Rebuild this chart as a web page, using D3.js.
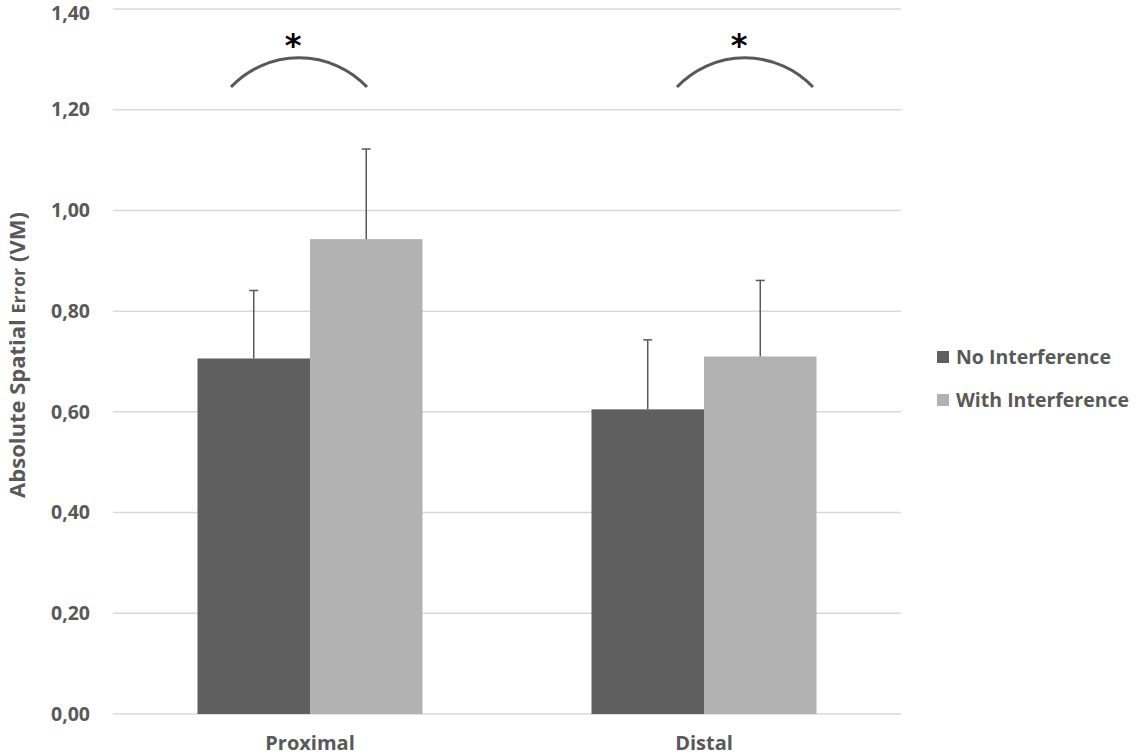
<!DOCTYPE html>
<html>
<head>
<meta charset="utf-8">
<script src="https://cdn.jsdelivr.net/npm/d3@7"></script>
<style>
  body { margin: 0; background: #fff; }
  svg { display: block; }
</style>
</head>
<body>
<div id="chart"></div>
<script>
// chart data
var categories = ["Proximal", "Distal"];
var series = ["No Interference", "With Interference"];
var means = [[0.706, 0.943], [0.605, 0.710]];
var errors = [[0.135, 0.179], [0.138, 0.151]];
var yTicks = [0, 0.2, 0.4, 0.6, 0.8, 1.0, 1.2, 1.4];
var colors = ["#5f5f5f", "#b2b2b2"];
// significance marks: arc ends and peak (data units), plus offset from group centre
var sigArcs = [
    { cat: "Proximal", dx: -11, halfWidth: 68, yEnd: 1.245, yPeak: 1.303, label: "*" },
    { cat: "Distal", dx: 41, halfWidth: 68, yEnd: 1.245, yPeak: 1.303, label: "*" }
];

function init() {
    var w = 1143, h = 756;
    var left = 113, right = 901, top = 9, bottom = 714;
    var fontMain = "'Open Sans', 'Noto Sans', sans-serif";

    var svg = d3.select("#chart").append("svg")
        .attr("width", w)
        .attr("height", h);

    var yScale = d3.scaleLinear()
        .domain([0, 1.4])
        .range([bottom, top]);

    var x0 = d3.scaleBand()
        .domain(categories)
        .range([left, right])
        .padding(0);

    var x1 = d3.scaleBand()
        .domain(series)
        .range([0, x0.bandwidth()])
        .paddingInner(0)
        .paddingOuter(0.751);

    // gridlines
    svg.append("g")
        .selectAll("line")
        .data(yTicks)
        .enter()
        .append("line")
        .attr("x1", left)
        .attr("x2", right)
        .attr("y1", function(d) { return yScale(d); })
        .attr("y2", function(d) { return yScale(d); })
        .attr("stroke", "#d9d9d9")
        .attr("stroke-width", 1.5);

    // y axis labels
    var yAxis = d3.axisLeft(yScale)
        .tickValues(yTicks)
        .tickSize(0)
        .tickPadding(23)
        .tickFormat(function(d) { return d3.format(".2f")(d).replace(".", ","); });

    var gy = svg.append("g")
        .attr("transform", "translate(" + left + ",0)")
        .call(yAxis);
    gy.select(".domain").remove();
    gy.selectAll("text")
        .attr("font-family", fontMain)
        .attr("font-weight", "bold")
        .attr("font-size", "19.5px")
        .attr("fill", "#595959");
    // keep the top label inside the frame
    gy.selectAll(".tick")
        .filter(function(d) { return d === 1.4; })
        .select("text")
        .attr("dy", "0.55em");

    // bars
    var groups = svg.append("g")
        .selectAll("g")
        .data(categories)
        .enter()
        .append("g")
        .attr("transform", function(d) { return "translate(" + x0(d) + ",0)"; });

    function rows(d, i) {
        return series.map(function(s, j) {
            return { s: s, j: j, v: means[i][j], e: errors[i][j] };
        });
    }

    groups.selectAll("rect")
        .data(rows)
        .enter()
        .append("rect")
        .attr("x", function(d) { return x1(d.s); })
        .attr("y", function(d) { return yScale(d.v); })
        .attr("width", x1.bandwidth())
        .attr("height", function(d) { return yScale(0) - yScale(d.v); })
        .attr("fill", function(d) { return colors[d.j]; });

    // error bars
    var eb = groups.selectAll(".err")
        .data(rows)
        .enter()
        .append("g")
        .attr("class", "err");

    eb.append("line")
        .attr("x1", function(d) { return x1(d.s) + x1.bandwidth() / 2; })
        .attr("x2", function(d) { return x1(d.s) + x1.bandwidth() / 2; })
        .attr("y1", function(d) { return yScale(d.v); })
        .attr("y2", function(d) { return yScale(d.v + d.e); })
        .attr("stroke", "#595959")
        .attr("stroke-width", 1.5);

    eb.append("line")
        .attr("x1", function(d) { return x1(d.s) + x1.bandwidth() / 2 - 4.5; })
        .attr("x2", function(d) { return x1(d.s) + x1.bandwidth() / 2 + 4.5; })
        .attr("y1", function(d) { return yScale(d.v + d.e); })
        .attr("y2", function(d) { return yScale(d.v + d.e); })
        .attr("stroke", "#595959")
        .attr("stroke-width", 1.5);

    // category labels
    svg.append("g")
        .selectAll("text")
        .data(categories)
        .enter()
        .append("text")
        .attr("x", function(d) { return x0(d) + x0.bandwidth() / 2; })
        .attr("y", 750)
        .attr("text-anchor", "middle")
        .attr("font-family", "'Liberation Sans Narrow', 'Open Sans', sans-serif")
        .attr("font-weight", "bold")
        .attr("font-size", "20px")
        .attr("fill", "#595959")
        .text(function(d) { return d; });

    // significance arcs
    var arcs = svg.append("g")
        .selectAll("g")
        .data(sigArcs)
        .enter()
        .append("g");

    arcs.append("path")
        .attr("d", function(d) {
            var cx = x0(d.cat) + x0.bandwidth() / 2 + d.dx;
            var y1 = yScale(d.yEnd), yp = yScale(d.yPeak);
            var sag = y1 - yp;
            var r = (d.halfWidth * d.halfWidth + sag * sag) / (2 * sag);
            return "M" + (cx - d.halfWidth) + "," + y1 +
                   " A" + r + "," + r + " 0 0 1 " + (cx + d.halfWidth) + "," + y1;
        })
        .attr("fill", "none")
        .attr("stroke", "#595959")
        .attr("stroke-width", 3);

    arcs.append("text")
        .attr("x", function(d) { return x0(d.cat) + x0.bandwidth() / 2 + d.dx - 6; })
        .attr("y", 56)
        .attr("text-anchor", "middle")
        .attr("font-family", "'DejaVu Sans', sans-serif")
        .attr("font-weight", "bold")
        .attr("font-size", "32px")
        .attr("fill", "#000")
        .text(function(d) { return d.label; });

    // y axis title
    var title = svg.append("text")
        .attr("transform", "translate(25," + 355 + ") rotate(-90)")
        .attr("text-anchor", "middle")
        .attr("font-family", fontMain)
        .attr("font-weight", "bold")
        .attr("font-size", "22px")
        .attr("fill", "#595959");
    title.append("tspan").text("Absolute Spatial ");
    title.append("tspan").attr("font-size", "18px").text("Error");
    title.append("tspan").text(" (VM)");

    // legend
    var legend = svg.append("g")
        .selectAll("g")
        .data(series)
        .enter()
        .append("g")
        .attr("transform", function(d, i) { return "translate(937," + (351 + i * 43) + ")"; });

    legend.append("rect")
        .attr("width", 12)
        .attr("height", 12)
        .attr("fill", function(d, i) { return colors[i]; });

    legend.append("text")
        .attr("x", 19)
        .attr("y", 13)
        .attr("font-family", fontMain)
        .attr("font-weight", "bold")
        .attr("font-size", "19.5px")
        .attr("fill", "#595959")
        .text(function(d) { return d; });
}

window.onload = init;
</script>
</body>
</html>
